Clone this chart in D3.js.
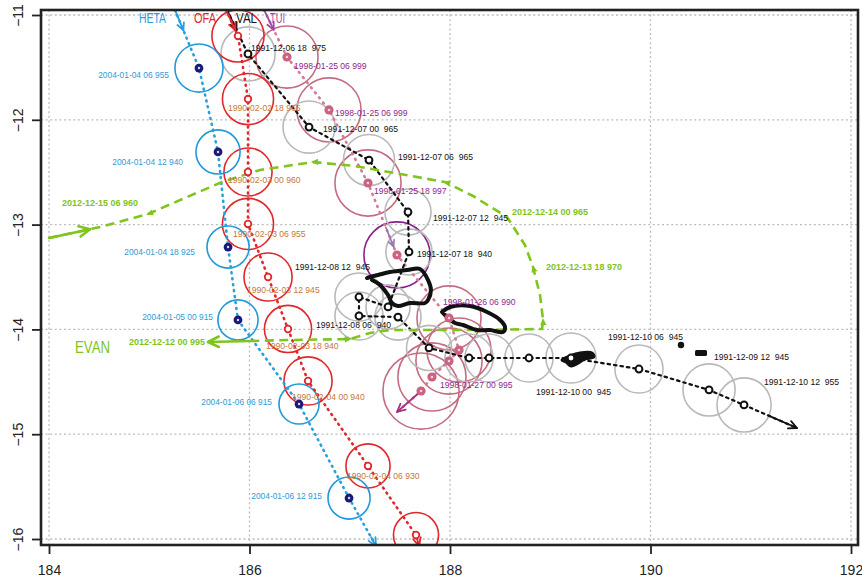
<!DOCTYPE html>
<html><head><meta charset="utf-8">
<script src="https://cdn.jsdelivr.net/npm/d3@7"></script>
<style>body{margin:0;background:#fff}svg{display:block}text{white-space:pre}</style>
</head><body>
<svg id="c" width="862" height="584"></svg>
<script>
// ---------- axis ticks ----------
const xTicks = [184, 186, 188, 190, 192];
const yTicks = [-11, -12, -13, -14, -15, -16];

// ---------- HETA (2004) ----------
const hetaLon = [185.496, 185.686, 185.786, 185.885, 186.494, 186.993];
const hetaLat = [-11.506, -12.307, -13.214, -13.910, -14.712, -15.609];
const hetaRad = [0.24, 0.22, 0.21, 0.20, 0.20, 0.21];
const hetaLab = ["2004-01-04 06 955", "2004-01-04 12 940", "2004-01-04 18 925", "2004-01-05 00 915", "2004-01-06 06 915", "2004-01-06 12 915"];
const hetaStart = [185.257, -10.952];
const hetaEnd = [187.262, -16.067];

// ---------- OFA (1990) ----------
const ofaLon = [185.885, 185.985, 185.985, 185.985, 186.185, 186.384, 186.584, 187.182, 187.661];
const ofaLat = [-11.200, -11.802, -12.498, -12.994, -13.500, -13.996, -14.492, -15.303, -15.962];
const ofaRad = [0.26, 0.255, 0.24, 0.255, 0.24, 0.235, 0.24, 0.22, 0.225];
const ofaLab = ["", "1990-02-02 18 965", "1990-02-03 00 960", "1990-02-03 06 955", "1990-02-03 12 945", "1990-02-03 18 940", "1990-02-04 00 940", "1990-02-04 06 930", ""];
const ofaStart = [185.766, -10.952];
const ofaEnd = [187.691, -16.067];

// ---------- VAL (1991) ----------
const valLon = [185.985, 186.594, 187.192, 187.581, 187.591, 187.382, 187.092, 187.092, 187.481, 187.791, 188.190, 188.389, 188.788, 189.207, 189.885, 190.584, 190.933];
const valLat = [-11.372, -12.069, -12.384, -12.880, -13.261, -13.786, -13.691, -13.872, -13.882, -14.177, -14.273, -14.273, -14.273, -14.273, -14.378, -14.578, -14.721];
const valRad = [0.27, 0.26, 0.255, 0.23, 0.23, 0.22, 0.24, 0.24, 0.23, 0.225, 0.24, 0.24, 0.24, 0.25, 0.24, 0.26, 0.27];
const valLab = ["1991-12-06 18  975", "1991-12-07 00  965", "1991-12-07 06  965", "1991-12-07 12  945", "1991-12-07 18  940", "", "1991-12-08 12  945", "1991-12-08 06  940", "", "", "", "", "", "1991-12-10 00  945", "1991-12-10 06  945", "1991-12-09 12  945", "1991-12-10 12  955"];
const valStart = [185.776, -10.952];
const valEnd = [191.461, -14.941];
// thick hand-drawn loops along the VAL track (lon/lat)
const valLoopA = [[187.172,-13.510],[187.202,-13.500],[187.282,-13.481],[187.401,-13.452],[187.571,-13.433],[187.701,-13.424],[187.781,-13.529],[187.810,-13.624],[187.781,-13.719],[187.751,-13.748],[187.601,-13.748],[187.481,-13.777],[187.421,-13.748],[187.382,-13.672],[187.302,-13.576],[187.222,-13.529]];
const valLoopB = [[187.920,-13.834],[188.000,-13.786],[188.200,-13.777],[188.369,-13.834],[188.499,-13.910],[188.549,-13.977],[188.529,-14.025],[188.399,-14.006],[188.269,-14.006],[188.130,-13.958],[188.050,-13.939],[187.970,-13.882],[187.920,-13.834]];
const valBlob = [[189.117,-14.292],[189.197,-14.254],[189.297,-14.225],[189.416,-14.225],[189.436,-14.263],[189.347,-14.282],[189.277,-14.321],[189.207,-14.349],[189.157,-14.311]];
const valDots = [[190.304,-14.149],[190.504,-14.225]];

// ---------- TUI (1998) ----------
const tuiLon = [186.374, 186.793, 187.182, 187.471, 187.990, 188.090, 187.990, 187.820, 187.711];
const tuiLat = [-11.401, -11.906, -12.603, -13.290, -13.891, -14.197, -14.302, -14.454, -14.588];
const tuiRad = [0.31, 0.32, 0.33, 0.33, 0.32, 0.32, 0.33, 0.34, 0.38];
const tuiLab = ["1998-01-25 06 999", "1998-01-25 06 999", "1998-01-25 18 997", "", "1998-01-26 06 990", "", "", "1998-01-27 00 995", ""];
const tuiStart = [186.145, -10.952];
const tuiEnd = [187.471, -14.788];

// ---------- EVAN (2012) ----------
const evanLon = [184.000, 184.509, 184.988, 185.377, 185.726, 186.105, 186.633, 187.052, 187.451, 187.950, 188.229, 188.569, 188.748, 188.828, 188.898, 188.928, 188.918, 188.299, 187.401, 187.202, 187.002, 186.404, 186.005, 185.586];
const evanLat = [-13.128, -13.023, -12.899, -12.737, -12.594, -12.479, -12.403, -12.441, -12.508, -12.594, -12.727, -12.927, -13.195, -13.405, -13.672, -13.910, -13.996, -14.006, -14.006, -14.034, -14.092, -14.101, -14.111, -14.120];
const evanLab = ["2012-12-15 06 960", "2012-12-14 00 965", "2012-12-13 18 970", "2012-12-12 00 995"];
const evanLabAt = [1, 11, 13, 23];

// ---------- layout (pixel nudges for text, not data) ----------
const hetaNudge = [[-30,7],[-35,10],[-33,5],[-25,-3],[-27,-2],[-27,-2]];
const ofaNudge = [[0,0],[-20,9],[-20,8],[-15,10],[-21,13],[-22,17],[-16,16],[-21,10],[0,0]];
const valNudge = [[3,-6],[14,2],[29,-3],[25,6],[8,2],[0,0],[-64,-30],[-43,9],[0,0],[0,0],[0,0],[0,0],[0,0],[-35,34],[-31,-32],[5,-33],[20,-23]];
const tuiNudge = [[7,9],[6,3],[6,8],[0,0],[-6,-16],[0,0],[0,0],[8,8],[0,0]];
const evanNudge = [[-38,-24],[5,-5],[13,0],[-3,0]];

const FONT = "'Liberation Sans', Arial, Helvetica, sans-serif";
const x = d3.scaleLinear().domain([184, 192]).range([49, 851]);
const y = d3.scaleLinear().domain([-11, -16]).range([15, 539]);
const box = {l: 41, t: 10, r: 858, b: 545};
const svg = d3.select("#c");
const P = (lon, lat) => [x(lon), y(lat)];

svg.append("defs").append("clipPath").attr("id", "clip").append("rect")
  .attr("x", box.l).attr("y", box.t).attr("width", box.r - box.l).attr("height", box.b - box.t);

// grid
const grid = svg.append("g").attr("stroke", "#bcbcbc").attr("stroke-width", 1.3).attr("stroke-dasharray", "2,2.6");
grid.selectAll(null).data(xTicks).join("line").attr("x1", d => x(d)).attr("x2", d => x(d)).attr("y1", box.t).attr("y2", box.b);
grid.selectAll(null).data(yTicks).join("line").attr("y1", d => y(d)).attr("y2", d => y(d)).attr("x1", box.l).attr("x2", box.r);

const plot = svg.append("g").attr("clip-path", "url(#clip)");
const gCirc = plot.append("g").attr("fill", "none");
const gTrack = plot.append("g").attr("fill", "none");
const gEvan = plot.append("g");
const gBlob = plot.append("g");
const gMark = plot.append("g");
const gLab = svg.append("g").attr("font-family", FONT);

function head(g, x1, y1, x2, y2, len, color, w) {
  const a = Math.atan2(y2 - y1, x2 - x1), s = 0.45;
  g.append("path").attr("fill", "none").attr("stroke", color).attr("stroke-width", w)
    .attr("stroke-linecap", "round").attr("stroke-linejoin", "round")
    .attr("d", d3.line()([[x2 - len * Math.cos(a - s), y2 - len * Math.sin(a - s)], [x2, y2], [x2 - len * Math.cos(a + s), y2 - len * Math.sin(a + s)]]));
}
function solidArrow(g, p1, p2, color, w, hl) {
  g.append("line").attr("x1", p1[0]).attr("y1", p1[1]).attr("x2", p2[0]).attr("y2", p2[1])
    .attr("stroke", color).attr("stroke-width", w).attr("stroke-linecap", "round");
  head(g, p1[0], p1[1], p2[0], p2[1], hl, color, w);
}
function along(a, b, len) {
  const dx = b[0] - a[0], dy = b[1] - a[1], L = Math.hypot(dx, dy);
  return [a[0] + dx / L * len, a[1] + dy / L * len];
}

function storm(s) {
  const pts = s.lon.map((d, i) => P(d, s.lat[i]));
  const st = P(...s.start), en = P(...s.end);
  gCirc.selectAll(null).data(pts).join("circle")
    .attr("cx", d => d[0]).attr("cy", d => d[1])
    .attr("r", (d, i) => x(s.lon[i] + s.rad[i]) - x(s.lon[i]))
    .attr("stroke", (d, i) => (s.circColor2 && s.special === i) ? s.circColor2 : s.circColor)
    .attr("stroke-width", 1.6);
  gTrack.append("path").attr("d", d3.line()([st, ...pts, en]))
    .attr("stroke", s.trackColor).attr("stroke-width", s.trackW)
    .attr("stroke-dasharray", s.dash).attr("stroke-linecap", "round");
  solidArrow(gTrack, st, along(st, pts[0], 22), s.arrowColor, 1.8, 8);
  const last = pts[pts.length - 1];
  const tail = along(en, last, s.endLen);
  solidArrow(gTrack, tail, en, s.endColor || s.arrowColor, 1.8, 9);
  if (s.special != null && s.specialArrow) {
    const a = pts[s.special - 1], b = pts[s.special];
    const tip = along(b, a, 9), tl = along(b, a, 30);
    solidArrow(gTrack, tl, tip, s.specialArrow, 1.6, 7);
  }
  s.marker(gMark, pts);
  gLab.selectAll(null).data(pts.map((p, i) => ({p, t: s.lab[i], n: s.nudge[i]})).filter(d => d.t))
    .join("text")
    .attr("xml:space", "preserve")
    .attr("x", d => d.p[0] + d.n[0]).attr("y", d => d.p[1] + d.n[1]).attr("dy", "0.35em")
    .attr("text-anchor", s.anchor).attr("font-size", s.fs).attr("fill", s.labColor)
    .text(d => d.t);
  gLab.append("text").attr("x", st[0] + s.nameDx).attr("y", 23)
    .attr("text-anchor", s.anchor === "end" || s.nameEnd ? "end" : "start")
    .attr("font-size", 14).attr("fill", s.nameColor)
    .attr("textLength", s.nameLen).attr("lengthAdjust", "spacingAndGlyphs").text(s.name);
}

storm({name: "TUI", lon: tuiLon, lat: tuiLat, rad: tuiRad, lab: tuiLab, start: tuiStart, end: tuiEnd,
  nudge: tuiNudge, anchor: "start", fs: 8.6, labColor: "#8e1f8e", circColor: "#c46c82", circColor2: "#8b1f8b", special: 3,
  specialArrow: "#9478b8", trackColor: "#d27b92", trackW: 2.6, dash: "1,5.5", arrowColor: "#a04aa8", endColor: "#a3347f", endLen: 32,
  nameColor: "#a04aa8", nameDx: 6, nameLen: 15,
  marker: (g, pts) => {
    g.selectAll(null).data(pts).join("circle").attr("cx", d => d[0]).attr("cy", d => d[1]).attr("r", 4.6).attr("fill", "#c9637f");
    g.selectAll(null).data(pts).join("circle").attr("cx", d => d[0]).attr("cy", d => d[1]).attr("r", 1.3).attr("fill", "#f2d6de");
  }});

storm({name: "VAL", lon: valLon, lat: valLat, rad: valRad, lab: valLab, start: valStart, end: valEnd,
  nudge: valNudge, anchor: "start", fs: 8.6, labColor: "#111", circColor: "#b9b9b9",
  trackColor: "#111", trackW: 2.2, dash: "2.5,4", arrowColor: "#111", endLen: 31,
  nameColor: "#111", nameDx: 9, nameLen: 21,
  marker: (g, pts) => {
    g.selectAll(null).data(pts).join("circle").attr("cx", d => d[0]).attr("cy", d => d[1]).attr("r", 3.4)
      .attr("fill", "#fff").attr("stroke", "#111").attr("stroke-width", 2);
  }});

storm({name: "OFA", lon: ofaLon, lat: ofaLat, rad: ofaRad, lab: ofaLab, start: ofaStart, end: ofaEnd,
  nudge: ofaNudge, anchor: "start", fs: 8.6, labColor: "#c8763a", circColor: "#e0282c",
  trackColor: "#e0282c", trackW: 2.6, dash: "1,5", arrowColor: "#e0282c", endLen: 10,
  nameColor: "#e0282c", nameDx: -10, nameEnd: true, nameLen: 22,
  marker: (g, pts) => {
    g.selectAll(null).data(pts).join("circle").attr("cx", d => d[0]).attr("cy", d => d[1]).attr("r", 3.3)
      .attr("fill", "#fff").attr("stroke", "#e0282c").attr("stroke-width", 1.8);
  }});

storm({name: "HETA", lon: hetaLon, lat: hetaLat, rad: hetaRad, lab: hetaLab, start: hetaStart, end: hetaEnd,
  nudge: hetaNudge, anchor: "end", fs: 8.4, labColor: "#2f9bd6", circColor: "#2299d8",
  trackColor: "#2a9fdc", trackW: 2.6, dash: "1,5", arrowColor: "#2a9fdc", endLen: 10,
  nameColor: "#2a9fdc", nameDx: -9, nameLen: 27,
  marker: (g, pts) => {
    g.selectAll(null).data(pts).join("circle").attr("cx", d => d[0]).attr("cy", d => d[1]).attr("r", 4.4).attr("fill", "#1b1a78");
    g.selectAll(null).data(pts).join("circle").attr("cx", d => d[0]).attr("cy", d => d[1]).attr("r", 1.2).attr("fill", "#d8d8f0");
  }});

// VAL thick loops
const loopLine = d3.line().curve(d3.curveCatmullRom);
gBlob.append("path").attr("d", loopLine(valLoopA.map(d => P(...d)))).attr("fill", "none")
  .attr("stroke", "#111").attr("stroke-width", 4).attr("stroke-linejoin", "round").attr("stroke-linecap", "round");
gBlob.append("path").attr("d", loopLine(valLoopB.map(d => P(...d)))).attr("fill", "none")
  .attr("stroke", "#111").attr("stroke-width", 4).attr("stroke-linejoin", "round").attr("stroke-linecap", "round");
gBlob.append("path").attr("d", d3.line().curve(d3.curveCatmullRomClosed)(valBlob.map(d => P(...d)))).attr("fill", "#111")
  .attr("stroke", "#111").attr("stroke-width", 3).attr("stroke-linejoin", "round");
gBlob.append("circle").attr("cx", x(valDots[0][0])).attr("cy", y(valDots[0][1])).attr("r", 3.2).attr("fill", "#111");
gBlob.append("rect").attr("x", x(valDots[1][0]) - 6).attr("y", y(valDots[1][1]) - 3).attr("width", 12).attr("height", 6).attr("rx", 1.5).attr("fill", "#111");

// EVAN
const ev = evanLon.map((d, i) => P(d, evanLat[i]));
const EV = "#80c41e";
gEvan.append("path").attr("d", d3.line()(ev.slice(0, ev.length - 1))).attr("fill", "none")
  .attr("stroke", EV).attr("stroke-width", 2.6).attr("stroke-dasharray", "9,5.5");
solidArrow(gEvan, ev[0], along(ev[0], ev[1], 42), EV, 2.6, 12);
solidArrow(gEvan, ev[ev.length - 2], ev[ev.length - 1], EV, 2.6, 12);
[2, 6, 9, 13, 15, 17, 20].forEach(i => {
  const a = Math.atan2(ev[i - 1][1] - ev[i + 1][1], ev[i - 1][0] - ev[i + 1][0]);
  const c = ev[i], L = 6, s = 0.55;
  gEvan.append("path").attr("fill", EV)
    .attr("d", d3.line()([[c[0] + 2 * Math.cos(a), c[1] + 2 * Math.sin(a)],
      [c[0] - L * Math.cos(a - s), c[1] - L * Math.sin(a - s)],
      [c[0] - L * Math.cos(a + s), c[1] - L * Math.sin(a + s)]]) + "Z");
});
gLab.selectAll(null).data(evanLab).join("text")
  .attr("x", (d, i) => ev[evanLabAt[i]][0] + evanNudge[i][0])
  .attr("y", (d, i) => ev[evanLabAt[i]][1] + evanNudge[i][1]).attr("dy", "0.35em")
  .attr("text-anchor", (d, i) => i === 3 ? "end" : "start")
  .attr("font-size", 9).attr("font-weight", "bold").attr("fill", EV).text(d => d);
gLab.append("text").attr("x", ev[ev.length - 1][0] - 133).attr("y", ev[ev.length - 1][1] + 11)
  .attr("font-size", 16).attr("fill", EV).attr("textLength", 35).attr("lengthAdjust", "spacingAndGlyphs").text("EVAN");

// box + axes
svg.append("rect").attr("x", box.l).attr("y", box.t).attr("width", box.r - box.l).attr("height", box.b - box.t)
  .attr("fill", "none").attr("stroke", "#222").attr("stroke-width", 2.6);
const ax = svg.append("g").attr("transform", `translate(0,${box.b})`)
  .call(d3.axisBottom(x).tickValues(xTicks).tickSize(9).tickPadding(11).tickFormat(d3.format("d")));
ax.select(".domain").remove();
ax.selectAll("line").attr("stroke", "#222").attr("stroke-width", 1.8);
ax.selectAll("text").attr("font-family", FONT).attr("font-size", 14).attr("fill", "#222");
const ay = svg.append("g").attr("transform", `translate(${box.l},0)`)
  .call(d3.axisLeft(y).tickValues(yTicks).tickSize(9).tickFormat(d => "\u2212" + Math.abs(d)));
ay.select(".domain").remove();
ay.selectAll("line").attr("stroke", "#222").attr("stroke-width", 1.8);
ay.selectAll("text").attr("font-family", FONT).attr("font-size", 14).attr("fill", "#222")
  .attr("x", 0).attr("dy", 0).attr("text-anchor", "middle").attr("transform", "translate(-18,0) rotate(-90)");
</script>
</body></html>
